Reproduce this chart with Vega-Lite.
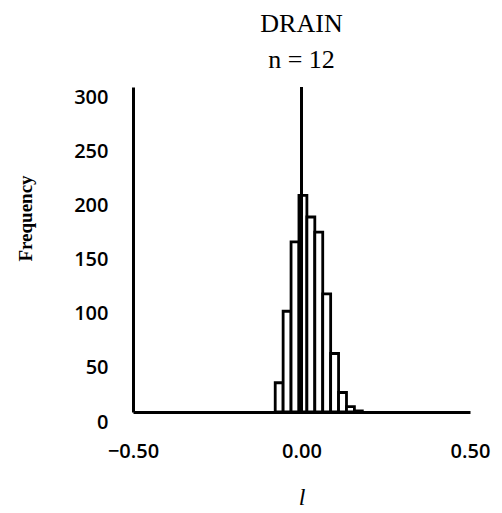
{
  "$schema": "https://vega.github.io/schema/vega-lite/v6.json",
  "autosize": "none",
  "padding": {"left": 133, "top": 87, "right": 32, "bottom": 101},
  "width": 337,
  "height": 325,
  "background": "white",
  "config": {"view": {"stroke": null}},
  "title": {
    "text": ["DRAIN", "n = 12"],
    "font": "Liberation Serif",
    "fontSize": 26,
    "fontWeight": "normal",
    "lineHeight": 36,
    "color": "black",
    "anchor": "middle",
    "offset": 13
  },
  "data": {
    "values": [
      {"start": -0.078, "end": -0.0545, "frequency": 27},
      {"start": -0.0545, "end": -0.031, "frequency": 93},
      {"start": -0.031, "end": -0.0075, "frequency": 157},
      {"start": -0.0075, "end": 0.016, "frequency": 200},
      {"start": 0.016, "end": 0.0395, "frequency": 180},
      {"start": 0.0395, "end": 0.063, "frequency": 166},
      {"start": 0.063, "end": 0.0865, "frequency": 109},
      {"start": 0.0865, "end": 0.11, "frequency": 54},
      {"start": 0.11, "end": 0.1335, "frequency": 18},
      {"start": 0.1335, "end": 0.157, "frequency": 5},
      {"start": 0.157, "end": 0.1805, "frequency": 1}
    ]
  },
  "layer": [
    {
      "mark": {"type": "rect", "fill": "white", "stroke": "black", "strokeWidth": 2.8},
      "encoding": {
        "x": {
          "field": "start",
          "type": "quantitative",
          "scale": {"domain": [-0.5, 0.5], "nice": false, "zero": false},
          "axis": {
            "values": [-0.5, 0, 0.5],
            "format": ".2f",
            "title": "l",
            "titleFont": "Liberation Serif",
            "titleFontStyle": "italic",
            "titleFontWeight": "normal",
            "titleFontSize": 24,
            "titleColor": "black",
            "titlePadding": 24,
            "labelFont": "Open Sans",
            "labelFontWeight": 600,
            "labelFontSize": 20,
            "labelColor": "black",
            "labelPadding": 29,
            "labelFlush": false,
            "ticks": false,
            "grid": false,
            "domainColor": "black",
            "domainWidth": 3
          }
        },
        "x2": {"field": "end"},
        "y": {
          "field": "frequency",
          "type": "quantitative",
          "scale": {"domain": [0, 300], "nice": false},
          "axis": {
            "values": [0, 50, 100, 150, 200, 250, 300],
            "title": "Frequency",
            "titleFont": "Liberation Serif",
            "titleFontWeight": "bold",
            "titleFontSize": 19,
            "titleColor": "black",
            "titleX": -102,
            "titleY": 131,
            "titleBaseline": "alphabetic",
            "labelFont": "Open Sans",
            "labelFontWeight": 600,
            "labelFontSize": 20,
            "labelColor": "black",
            "labelPadding": 25,
            "labelOffset": 10,
            "labelFlush": false,
            "ticks": false,
            "grid": false,
            "domainColor": "black",
            "domainWidth": 3
          }
        },
        "y2": {"datum": 0}
      }
    },
    {
      "mark": {"type": "rule", "color": "black", "strokeWidth": 2.8},
      "encoding": {"x": {"datum": 0}}
    }
  ]
}
